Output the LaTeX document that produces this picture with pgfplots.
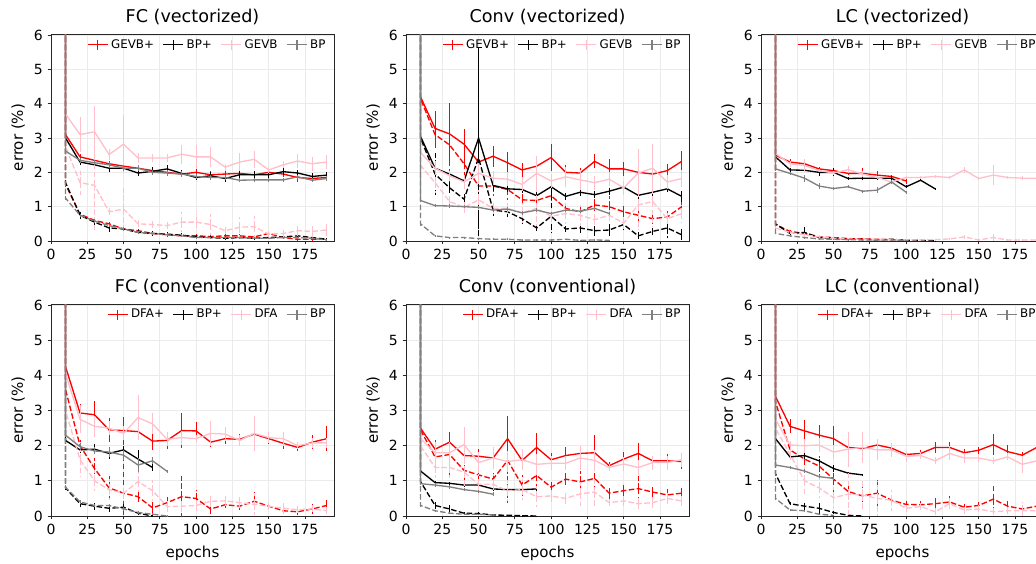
\documentclass[border=0pt]{standalone}
\usepackage{fontspec}
\setmainfont{DejaVu Sans}
\usepackage{pgfplots}
\usepackage{pgfplotstable}
\pgfplotsset{compat=1.18}
\definecolor{mplpink}{HTML}{FFC0CB}
\definecolor{mplgray}{HTML}{808080}
\definecolor{gridgray}{HTML}{EBEBEB}

% columns: solid (test) and dashed (train) for red / black / pink / gray, each with its error
% x rs rse ks kse ps pse gs gse rd rde kd kde pd pde gd gde
\pgfplotstableread{
x rs rse ks kse ps pse gs gse rd rde kd kde pd pde gd gde
10 50 0 50 0 50 0 50 0 50 0 50 0 50 0 50 0
10 3.1 0.1 3.0 0.1 3.7 0.1 2.62 0.08 1.65 0.08 1.7 0.08 2.75 0.2 1.25 0.05
20 2.45 0.08 2.3 0.1 3.1 0.5 2.35 0.08 0.78 0.06 0.75 0.1 1.7 0.35 0.75 0.05
30 2.35 0.1 2.22 0.12 3.18 0.75 2.28 0.08 0.6 0.06 0.55 0.1 1.62 1.3 0.58 0.05
40 2.25 0.08 2.12 0.12 2.52 0.15 2.22 0.08 0.5 0.06 0.38 0.12 0.85 0.1 0.45 0.05
50 2.18 0.08 2.12 0.1 2.82 0.85 2.12 0.08 0.35 0.05 0.35 0.05 0.93 0.6 0.35 0.05
60 2.12 0.1 1.98 0.1 2.42 0.15 2.12 0.08 0.3 0.05 0.25 0.06 0.5 0.1 0.25 0.05
70 2.05 0.08 2.03 0.12 2.42 0.12 2.0 0.08 0.22 0.05 0.22 0.08 0.48 0.1 0.22 0.04
80 2.0 0.08 2.1 0.12 2.42 0.12 1.98 0.08 0.18 0.05 0.2 0.05 0.45 0.1 0.18 0.04
90 1.95 0.08 1.97 0.1 2.53 0.28 1.95 0.08 0.15 0.04 0.17 0.05 0.55 0.3 0.15 0.04
100 2.0 0.1 1.85 0.08 2.45 0.35 1.88 0.08 0.15 0.04 0.12 0.05 0.55 0.25 0.1 0.03
110 1.93 0.1 1.9 0.1 2.45 0.3 1.85 0.08 0.13 0.04 0.1 0.04 0.48 0.3 0.1 0.03
120 1.95 0.1 1.82 0.1 2.15 0.1 1.85 0.08 0.15 0.04 0.08 0.04 0.3 0.1 0.1 0.03
130 1.97 0.08 1.93 0.1 2.3 0.25 1.77 0.06 0.15 0.04 0.1 0.04 0.4 0.3 0.1 0.03
140 1.93 0.1 1.93 0.1 2.38 0.25 1.78 0.06 0.12 0.04 0.08 0.04 0.42 0.3 0.08 0.03
150 2.0 0.1 1.93 0.1 2.07 0.1 1.78 0.06 0.22 0.04 0.1 0.04 0.2 0.1 0.08 0.03
160 1.95 0.1 2.02 0.1 2.22 0.1 1.78 0.06 0.1 0.04 0.12 0.04 0.22 0.1 0.1 0.03
170 1.85 0.12 1.98 0.1 2.33 0.2 1.87 0.06 0.05 0.04 0.15 0.04 0.3 0.15 0.1 0.03
180 1.82 0.1 1.88 0.1 2.25 0.2 1.77 0.06 0.05 0.04 0.1 0.04 0.28 0.15 0.08 0.03
190 1.85 0.08 1.92 0.08 2.3 0.2 1.82 0.06 0.05 0.03 0.05 0.03 0.32 0.2 0.03 0.02
}\fcvec

\pgfplotstableread{
x rs rse ks kse ps pse gs gse rd rde kd kde pd pde gd gde
10 50 0 50 0 50 0 50 0 50 0 50 0 50 0 50 0
10 4.2 0.1 3.05 0.1 2.58 0.1 1.18 0.05 4.15 0.1 3.0 0.1 2.2 0.1 0.5 0.05
20 3.28 0.5 2.12 0.1 2.12 0.2 1.03 0.05 3.1 0.4 1.95 0.6 1.7 0.3 0.15 0.03
30 3.12 0.9 1.95 0.1 1.9 0.15 1.02 0.05 2.8 1.1 1.55 0.2 1.15 0.2 0.1 0.03
40 2.82 0.45 1.75 0.1 1.72 0.2 1.0 0.05 2.25 0.5 1.22 0.2 0.98 0.2 0.1 0.03
50 2.3 0.15 3.0 2.65 1.97 0.3 0.98 0.05 1.6 0.8 2.42 2.3 1.2 0.3 0.07 0.03
60 2.47 0.3 1.62 0.15 1.83 0.2 0.9 0.05 1.6 0.3 0.9 0.2 0.95 0.2 0.05 0.03
70 2.28 0.3 1.52 0.1 1.8 0.2 0.93 0.05 1.5 0.3 0.85 0.2 0.95 0.2 0.05 0.03
80 2.07 0.2 1.5 0.1 1.65 0.2 0.82 0.05 1.2 0.2 0.65 0.2 0.82 0.3 0.03 0.02
90 2.18 0.1 1.32 0.1 1.97 0.5 0.9 0.05 1.18 0.2 0.38 0.1 0.95 0.5 0.03 0.02
100 2.43 0.4 1.58 0.35 1.75 0.2 0.8 0.05 1.32 0.3 0.72 0.5 0.72 0.2 0.03 0.02
110 2.0 0.2 1.3 0.1 1.87 0.3 0.9 0.05 0.95 0.2 0.35 0.1 0.8 0.3 0.05 0.02
120 1.98 0.15 1.42 0.1 1.78 0.3 0.87 0.05 0.85 0.2 0.38 0.15 0.75 0.3 0.02 0.02
130 2.32 0.2 1.35 0.1 1.7 0.2 0.95 0.05 1.05 0.2 0.3 0.15 0.62 0.2 0.03 0.02
140 2.1 0.3 1.45 0.1 1.8 0.2 0.8 0.05 1.0 0.3 0.32 0.2 0.75 0.2 0.02 0.02
150 2.1 0.2 1.57 0.15 1.55 0.2 nan nan 0.85 0.2 0.48 0.15 0.52 0.2 nan nan
160 2.0 0.1 1.33 0.1 1.98 0.7 nan nan 0.75 0.2 0.15 0.1 1.05 0.7 nan nan
170 1.95 0.1 1.42 0.1 2.12 0.7 nan nan 0.65 0.2 0.28 0.1 1.15 0.7 nan nan
180 2.05 0.2 1.52 0.1 1.72 0.2 nan nan 0.7 0.2 0.38 0.3 0.65 0.2 nan nan
190 2.32 0.3 1.3 0.15 1.82 0.25 nan nan 1.0 0.3 0.18 0.2 0.8 0.25 nan nan
}\convvec

\pgfplotstableread{
x rs rse ks kse ps pse gs gse rd rde kd kde pd pde gd gde
10 50 0 50 0 50 0 50 0 50 0 50 0 50 0 50 0
10 2.5 0.05 2.45 0.05 2.55 0.05 2.1 0.05 0.48 0.05 0.5 0.05 0.38 0.05 0.22 0.03
20 2.3 0.08 2.07 0.05 2.25 0.08 1.97 0.05 0.28 0.05 0.22 0.05 0.25 0.05 0.15 0.03
30 2.25 0.05 2.06 0.05 2.2 0.2 1.83 0.1 0.22 0.05 0.25 0.2 0.18 0.05 0.1 0.03
40 2.1 0.05 2.0 0.1 2.05 0.05 1.6 0.08 0.12 0.03 0.1 0.03 0.12 0.05 0.06 0.02
50 2.05 0.05 2.0 0.12 1.98 0.05 1.53 0.05 0.1 0.03 0.08 0.03 0.08 0.03 0.05 0.02
60 1.97 0.05 1.82 0.05 2.08 0.1 1.58 0.05 0.07 0.02 0.05 0.02 0.06 0.02 0.04 0.02
70 1.97 0.15 1.83 0.05 1.95 0.1 1.45 0.05 0.06 0.02 0.05 0.02 0.05 0.02 0.03 0.02
80 1.92 0.12 1.83 0.05 1.85 0.05 1.48 0.08 0.05 0.02 0.03 0.02 0.04 0.02 0.03 0.02
90 1.88 0.05 1.83 0.05 1.72 0.05 1.72 0.05 0.04 0.02 0.05 0.02 0.04 0.02 0.03 0.02
100 1.75 0.08 1.58 0.05 1.85 0.05 1.42 0.05 0.03 0.02 0.02 0.02 0.03 0.02 0.02 0.02
110 nan nan 1.77 0.03 1.85 0.05 nan nan nan nan 0.02 0.01 0.03 0.02 nan nan
120 nan nan 1.52 0.03 1.88 0.05 nan nan nan nan 0.01 0.01 0.04 0.02 nan nan
130 nan nan nan nan 1.85 0.05 nan nan nan nan nan nan 0.06 0.03 nan nan
140 nan nan nan nan 2.07 0.1 nan nan nan nan nan nan 0.12 0.05 nan nan
150 nan nan nan nan 1.82 0.05 nan nan nan nan nan nan 0.03 0.02 nan nan
160 nan nan nan nan 1.92 0.3 nan nan nan nan nan nan 0.1 0.1 nan nan
170 nan nan nan nan 1.85 0.05 nan nan nan nan nan nan 0.03 0.02 nan nan
180 nan nan nan nan 1.83 0.05 nan nan nan nan nan nan 0.03 0.02 nan nan
190 nan nan nan nan 1.83 0.05 nan nan nan nan nan nan 0.03 0.02 nan nan
}\lcvec

\pgfplotstableread{
x rs rse ks kse ps pse gs gse rd rde kd kde pd pde gd gde
10 50 0 50 0 50 0 50 0 50 0 50 0 50 0 50 0
10 4.25 0.1 2.15 0.05 4.05 0.1 2.3 0.05 3.6 0.2 0.8 0.05 3.0 0.2 0.82 0.05
20 2.93 0.25 1.88 0.1 2.75 0.4 1.97 0.1 2.0 0.2 0.35 0.1 1.6 0.5 0.4 0.05
30 2.88 0.4 1.9 0.15 2.55 0.3 1.85 0.1 1.35 0.3 0.28 0.1 1.0 0.3 0.3 0.05
40 2.45 0.35 1.78 0.15 2.5 0.2 1.82 0.15 0.8 0.35 0.22 0.1 0.75 0.3 0.3 0.05
50 2.43 0.4 1.88 0.1 2.35 0.2 1.73 0.15 0.65 0.95 0.25 0.1 0.65 0.2 0.2 0.05
60 2.4 0.1 1.62 0.25 2.8 0.65 1.45 0.2 0.55 0.2 0.08 0.05 0.98 0.3 0.1 0.05
70 2.13 0.25 1.38 0.1 2.62 0.3 1.57 0.1 0.23 0.2 0.0 0.02 0.72 0.3 0.05 0.03
80 2.15 0.25 nan nan 2.18 0.2 1.27 0.05 0.38 0.15 nan nan 0.27 0.2 0.0 0.02
90 2.43 0.5 nan nan 2.23 0.2 nan nan 0.55 0.6 nan nan 0.28 0.2 nan nan
100 2.42 0.25 nan nan 2.2 0.1 nan nan 0.5 0.25 nan nan 0.3 0.2 nan nan
110 2.1 0.15 nan nan 2.35 0.35 nan nan 0.2 0.15 nan nan 0.42 0.2 nan nan
120 2.2 0.15 nan nan 2.33 0.2 nan nan 0.32 0.1 nan nan 0.43 0.15 nan nan
130 2.18 0.15 nan nan 2.15 0.15 nan nan 0.28 0.1 nan nan 0.38 0.15 nan nan
140 2.33 0.2 nan nan 2.35 0.5 nan nan 0.42 0.25 nan nan 0.33 0.3 nan nan
150 2.2 0.15 nan nan 2.23 0.15 nan nan 0.28 0.1 nan nan 0.28 0.1 nan nan
160 2.07 0.15 nan nan 2.2 0.2 nan nan 0.15 0.1 nan nan 0.22 0.15 nan nan
170 1.95 0.1 nan nan 2.0 0.1 nan nan 0.12 0.1 nan nan 0.18 0.1 nan nan
180 2.1 0.2 nan nan 2.08 0.15 nan nan 0.2 0.15 nan nan 0.2 0.1 nan nan
190 2.2 0.35 nan nan 2.08 0.15 nan nan 0.3 0.2 nan nan 0.15 0.1 nan nan
}\fcconv

\pgfplotstableread{
x rs rse ks kse ps pse gs gse rd rde kd kde pd pde gd gde
10 50 0 50 0 50 0 50 0 50 0 50 0 50 0 50 0
10 2.5 0.1 1.28 0.05 2.2 0.1 0.92 0.05 2.45 0.1 0.98 0.05 2.0 0.1 0.3 0.05
20 1.9 0.25 0.95 0.05 1.8 0.3 0.88 0.05 1.68 0.3 0.3 0.1 1.38 0.3 0.15 0.03
30 2.1 0.3 0.93 0.05 1.8 0.3 0.83 0.05 1.75 0.6 0.2 0.1 1.38 0.3 0.08 0.03
40 1.72 0.2 0.88 0.05 2.03 0.5 0.75 0.05 1.3 0.4 0.08 0.03 1.25 0.5 0.05 0.02
50 1.7 0.2 0.88 0.05 1.52 0.3 0.7 0.05 1.17 0.3 0.07 0.03 0.9 0.3 0.05 0.02
60 1.65 0.1 0.77 0.05 1.65 0.3 0.62 0.05 1.05 0.2 0.03 0.02 0.9 0.3 0.03 0.02
70 2.2 0.65 0.75 0.05 1.55 0.3 nan nan 1.58 1.2 0.02 0.02 0.72 0.3 nan nan
80 1.58 0.15 0.75 0.05 1.6 0.3 nan nan 0.88 0.3 0.01 0.01 0.75 0.3 nan nan
90 1.95 0.4 0.77 0.05 1.47 0.3 nan nan 1.15 0.4 0.0 0.01 0.55 0.3 nan nan
100 1.6 0.2 nan nan 1.5 0.2 nan nan 0.82 0.2 nan nan 0.57 0.2 nan nan
110 1.72 0.25 nan nan 1.5 0.2 nan nan 1.05 0.2 nan nan 0.5 0.2 nan nan
120 1.78 0.2 nan nan 1.65 0.35 nan nan 0.97 0.3 nan nan 0.63 0.35 nan nan
130 1.8 0.5 nan nan 1.58 0.3 nan nan 1.07 0.3 nan nan 0.68 0.4 nan nan
140 1.43 0.1 nan nan 1.38 0.1 nan nan 0.65 0.2 nan nan 0.38 0.1 nan nan
150 1.62 0.2 nan nan 1.48 0.2 nan nan 0.72 0.2 nan nan 0.43 0.15 nan nan
160 1.78 0.3 nan nan 1.38 0.2 nan nan 0.78 0.35 nan nan 0.35 0.2 nan nan
170 1.57 0.15 nan nan 1.52 0.2 nan nan 0.68 0.15 nan nan 0.38 0.2 nan nan
180 1.57 0.2 nan nan 1.52 0.2 nan nan 0.6 0.2 nan nan 0.5 0.15 nan nan
190 1.55 0.2 nan nan 1.6 0.2 nan nan 0.65 0.2 nan nan 0.43 0.15 nan nan
}\convconv

\pgfplotstableread{
x rs rse ks kse ps pse gs gse rd rde kd kde pd pde gd gde
10 50 0 50 0 50 0 50 0 50 0 50 0 50 0 50 0
10 3.4 0.1 2.2 0.05 2.75 0.1 1.45 0.05 3.25 0.1 1.2 0.05 2.5 0.1 0.5 0.05
20 2.55 0.2 1.68 0.05 2.02 0.1 1.38 0.05 1.88 0.1 0.35 0.05 1.75 0.2 0.17 0.03
30 2.42 0.3 1.72 0.1 2.0 0.2 1.28 0.05 1.62 0.2 0.28 0.1 1.0 0.4 0.15 0.03
40 2.3 0.3 1.57 0.05 2.02 0.2 1.12 0.05 1.42 0.3 0.22 0.15 0.8 0.3 0.05 0.02
50 2.2 0.35 1.35 0.1 1.82 0.2 1.07 0.05 1.05 0.4 0.1 0.05 0.52 0.3 0.02 0.02
60 1.95 0.1 1.22 0.03 1.9 0.5 nan nan 0.7 0.2 0.02 0.02 0.62 0.6 nan nan
70 1.92 0.1 1.17 0.03 1.95 0.45 nan nan 0.57 0.3 0.0 0.01 0.6 0.45 nan nan
80 2.02 0.1 nan nan 1.88 0.3 nan nan 0.65 0.4 nan nan 0.5 0.5 nan nan
90 1.93 0.15 nan nan 1.88 0.2 nan nan 0.45 0.2 nan nan 0.45 0.3 nan nan
100 1.75 0.1 nan nan 1.7 0.15 nan nan 0.33 0.1 nan nan 0.22 0.1 nan nan
110 1.78 0.1 nan nan 1.72 0.1 nan nan 0.32 0.1 nan nan 0.27 0.1 nan nan
120 1.95 0.15 nan nan 1.57 0.1 nan nan 0.35 0.2 nan nan 0.12 0.1 nan nan
130 1.95 0.15 nan nan 1.78 0.2 nan nan 0.4 0.2 nan nan 0.35 0.2 nan nan
140 1.8 0.1 nan nan 1.65 0.15 nan nan 0.25 0.1 nan nan 0.17 0.1 nan nan
150 1.87 0.1 nan nan 1.65 0.1 nan nan 0.3 0.1 nan nan 0.2 0.1 nan nan
160 2.03 0.3 nan nan 1.57 0.1 nan nan 0.48 0.4 nan nan 0.12 0.1 nan nan
170 1.83 0.2 nan nan 1.68 0.1 nan nan 0.28 0.2 nan nan 0.15 0.1 nan nan
180 1.73 0.1 nan nan 1.47 0.25 nan nan 0.2 0.1 nan nan 0.15 0.25 nan nan
190 1.95 0.15 nan nan 1.57 0.2 nan nan 0.28 0.1 nan nan 0.15 0.2 nan nan
}\lcconv

\pgfplotsset{
  errpanel/.style={
    scale only axis, width=212.25pt,
    xmin=0, xmax=195, ymin=0, ymax=6.03,
    xtick={0,25,...,175}, ytick={0,1,...,6},
    xtick pos=bottom, ytick pos=left,
    grid=major, major grid style={gridgray, line width=0.6pt},
    axis line style={black!85, line width=0.6pt},
    tick align=outside, major tick length=2.6pt,
    tick style={black!85, line width=0.6pt},
    tick label style={font=\fontsize{10.5}{12}\selectfont},
    /pgf/number format/assume math mode=true,
    title style={font=\fontsize{13.2}{15}\selectfont, yshift=-2.5pt},
    label style={font=\fontsize{11.3}{13}\selectfont},
    xlabel style={yshift=-1.5pt},
    ylabel={error (\%)},
    error bars/y dir=both, error bars/y explicit, error bars/error mark=none,
    every axis plot/.append style={line width=1pt},
    legend style={at={(0.985,0.995)}, anchor=north east, draw=none, fill=none,
      legend columns=4, font=\fontsize{8.9}{10}\selectfont, inner sep=1pt,
      /tikz/every even column/.append style={column sep=4.5pt}},
    legend image code/.code={%
      \draw[#1,solid,line width=1pt] (0pt,0pt) -- (15pt,0pt);
      \draw[#1,solid,line width=1pt] (7.5pt,-3.75pt) -- (7.5pt,3.75pt);},
  },
  mpldash/.style={dash pattern=on 4.2pt off 1.8pt},
}

\newcommand{\drawpanel}[2]{%
  \addlegendimage{red}\addlegendentry{#2+}
  \addlegendimage{black}\addlegendentry{BP+}
  \addlegendimage{mplpink}\addlegendentry{#2}
  \addlegendimage{mplgray}\addlegendentry{BP}
  \addplot[red,forget plot] table[x=x,y=rs,y error=rse]{#1};
  \addplot[red,mpldash,forget plot] table[x=x,y=rd,y error=rde]{#1};
  \addplot[black,forget plot] table[x=x,y=ks,y error=kse]{#1};
  \addplot[black,mpldash,forget plot] table[x=x,y=kd,y error=kde]{#1};
  \addplot[mplpink,forget plot] table[x=x,y=ps,y error=pse]{#1};
  \addplot[mplpink,mpldash,forget plot] table[x=x,y=pd,y error=pde]{#1};
  \addplot[mplgray,forget plot] table[x=x,y=gs,y error=gse]{#1};
  \addplot[mplgray,mpldash,forget plot] table[x=x,y=gd,y error=gde]{#1};
}

\begin{document}
\begin{tikzpicture}
\begin{axis}[errpanel, at={(38.25pt,-25.5pt)}, anchor=north west, height=155.25pt,
  title={FC (vectorized)}]
\drawpanel{\fcvec}{GEVB}
\end{axis}
\begin{axis}[errpanel, at={(304.5pt,-25.5pt)}, anchor=north west, height=155.25pt,
  title={Conv (vectorized)}]
\drawpanel{\convvec}{GEVB}
\end{axis}
\begin{axis}[errpanel, at={(570.75pt,-25.5pt)}, anchor=north west, height=155.25pt,
  title={LC (vectorized)}]
\drawpanel{\lcvec}{GEVB}
\end{axis}
\begin{axis}[errpanel, at={(38.25pt,-228pt)}, anchor=north west, height=159pt,
  title={FC (conventional)}, xlabel={epochs}]
\drawpanel{\fcconv}{DFA}
\end{axis}
\begin{axis}[errpanel, at={(304.5pt,-228pt)}, anchor=north west, height=159pt,
  title={Conv (conventional)}, xlabel={epochs}]
\drawpanel{\convconv}{DFA}
\end{axis}
\begin{axis}[errpanel, at={(570.75pt,-228pt)}, anchor=north west, height=159pt,
  title={LC (conventional)}, xlabel={epochs}]
\drawpanel{\lcconv}{DFA}
\end{axis}
\pgfresetboundingbox
\useasboundingbox (0,0) rectangle (777pt,-423pt);
\end{tikzpicture}
\end{document}
